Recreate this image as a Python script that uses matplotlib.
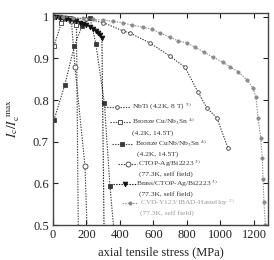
import matplotlib
matplotlib.use("Agg")
import matplotlib.pyplot as plt
from matplotlib.ticker import FuncFormatter

plt.rcParams['font.family'] = ['Liberation Serif', 'DejaVu Serif']
plt.rcParams['mathtext.fontset'] = 'stix'

# ---------------- data ----------------
nbti_x = [0, 100, 200, 300, 418, 460, 579, 700, 788, 866, 919, 979, 1045]
nbti_y = [1.0, 0.998, 0.994, 0.986, 0.966, 0.961, 0.937, 0.905, 0.879, 0.819, 0.781, 0.757, 0.685]

bcu_x = [6, 50, 101, 140, 152]
bcu_y = [0.93, 0.985, 0.998, 0.98, 0.45]

bcunb_x = [6, 70, 128, 173, 221, 256, 307, 340, 372]
bcunb_y = [0.752, 0.836, 0.93, 0.978, 0.998, 0.935, 0.792, 0.594, 0.45]

ctop_x = [0, 40, 80, 110, 131, 191, 207]
ctop_y = [1.0, 0.999, 0.996, 0.99, 0.88, 0.642, 0.45]

brass_x = [0, 20, 40, 60, 80, 100, 120, 140, 160, 180, 200, 220, 240, 255, 270, 282, 292, 306]
brass_y = [1.0, 0.999, 0.998, 0.997, 0.995, 0.993, 0.991, 0.989, 0.986, 0.983, 0.98, 0.976, 0.971, 0.966, 0.961, 0.956, 0.949, 0.45]

cvd_x = [0, 60, 120, 180, 240, 300, 360, 420, 471, 537, 591, 639, 699, 746, 800, 848, 901,
         955, 1015, 1057, 1104, 1158, 1194, 1212, 1224, 1240, 1250, 1254, 1260, 1268]
cvd_y = [1.0, 0.999, 0.998, 0.996, 0.994, 0.992, 0.989, 0.985, 0.98, 0.975, 0.97, 0.961, 0.951,
         0.942, 0.937, 0.927, 0.915, 0.903, 0.891, 0.88, 0.868, 0.849, 0.829, 0.807, 0.757,
         0.71, 0.66, 0.61, 0.555, 0.5]

x_ticks = [0, 200, 400, 600, 800, 1000, 1200]
y_ticks = [0.5, 0.6, 0.7, 0.8, 0.9, 1.0]

labels = [
    (r"NbTi (4.2K, 8 T) $^{5)}$", None),
    (r"Bronze Cu/Nb$_3$Sn $^{4)}$", "(4.2K, 14.5T)"),
    (r"Bronze CuNb/Nb$_3$Sn $^{4)}$", "(4.2K, 14.5T)"),
    (r"CTOP-Ag/Bi2223 $^{3)}$", "(77.3K, self field)"),
    (r"Brass/CTOP-Ag/Bi2223 $^{3)}$", "(77.3K, self field)"),
    (r"CVD-Y123/IBAD-Hastelloy $^{2)}$", "(77.3K, self field)"),
]

# ---------------- figure ----------------
W, H = 274, 260
fig = plt.figure(figsize=(W / 100, H / 100), dpi=100)
L, R, T, B = 53, 268, 13, 225
ax = fig.add_axes([L / W, (H - B) / H, (R - L) / W, (B - T) / H])

dark = '#3a3a3a'
gray = '#8a8a8a'
ls = (0, (1.2, 1.2))
lw = 0.8

styles = [
    dict(marker='o', ms=2.6, mfc='white', mec=dark, color=dark, mew=0.6),
    dict(marker='s', ms=3.2, mfc='white', mec=dark, color=dark, mew=0.6),
    dict(marker='s', ms=3.4, mfc=dark, mec=dark, color=dark, mew=0.6),
    dict(marker='o', ms=3.6, mfc='white', mec=dark, color=dark, mew=0.6),
    dict(marker='v', ms=3.4, mfc='#111111', mec='#111111', color='#111111', mew=0.6),
    dict(marker='o', ms=2.4, mfc=gray, mec=gray, color=gray, mew=0.5),
]
series = [(nbti_x, nbti_y), (bcu_x, bcu_y), (bcunb_x, bcunb_y),
          (ctop_x, ctop_y), (brass_x, brass_y), (cvd_x, cvd_y)]

for (xs, ys), st in zip(series, styles):
    ax.plot(xs, ys, ls=ls, lw=lw, **st)

ax.set_xlim(0, 1284)
ax.set_ylim(0.5, 1.009)
ax.set_xticks(x_ticks)
ax.set_yticks(y_ticks)
ax.yaxis.set_major_formatter(FuncFormatter(lambda v, p: f"{v:g}"))
ax.tick_params(direction='in', top=True, right=True, length=3.5, width=0.8,
               labelsize=9, colors='#222222', pad=3)
for s in ax.spines.values():
    s.set_linewidth(1.0)
    s.set_color('#444444')

ax.set_xlabel("axial tensile stress (MPa)", fontsize=9, labelpad=4, color='#222222')
ax.set_ylabel(r"$I_{\rm c}/I_{\rm c}^{\rm\ max}$", fontsize=9.5, labelpad=8, color='#222222')

# ---------------- manual legend (staggered, as in reference) ----------------
def fx(px):
    return (px - L) / (R - L)

def fy(py):
    return (B - py) / (B - T)

leg = [
    # x0, x1, xm, y, tx, ty_cond, tx_cond
    (104, 130, 117, 107, 132, None, None),
    (110, 131, 120, 122, 132, 133, 132),
    (112, 133, 122, 144, 135, 154, 137),
    (118, 137, 128, 164, 138, 174, 139),
    (113, 137, 125, 184, 136, 194, 139),
    (122, 138, 130, 203, 140, 213, 140),
]
for (x0, x1, xm, y, tx, yc, txc), st, (name, cond), i in zip(leg, styles, labels, range(6)):
    ax.plot([fx(x0), fx(x1)], [fy(y), fy(y)], transform=ax.transAxes, ls=ls, lw=lw,
            color=st['color'], clip_on=False)
    mst = {k: v for k, v in st.items() if k != 'color'}
    ax.plot([fx(xm)], [fy(y)], transform=ax.transAxes, ls='none', clip_on=False, **mst)
    tcol = '#9a9a9a' if i == 5 else '#333333'
    ax.text(fx(tx), fy(y), name, transform=ax.transAxes, fontsize=5.4,
            ha='left', va='center', color=tcol)
    if cond:
        ax.text(fx(txc), fy(yc), cond, transform=ax.transAxes, fontsize=5.4,
                ha='left', va='center', color=tcol)

fig.savefig("out.png", dpi=100)
